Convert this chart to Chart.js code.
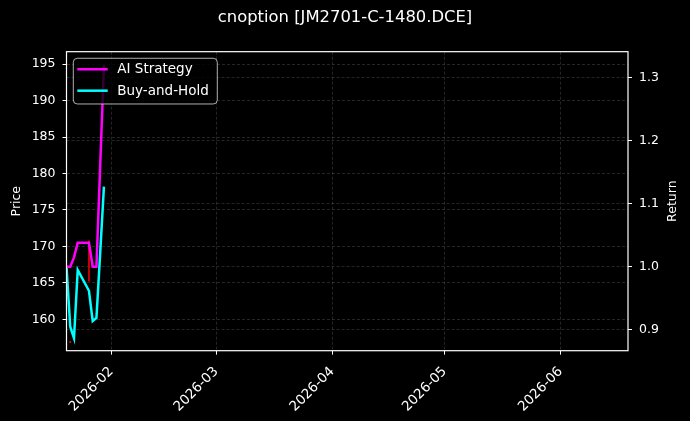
<!DOCTYPE html>
<html>
<head>
<meta charset="utf-8">
<title>cnoption</title>
<script src="https://cdn.jsdelivr.net/npm/chart.js@4.4.1/dist/chart.umd.min.js"></script>
<style>
  html, body { margin: 0; padding: 0; background: #000; }
  #grafico { display: block; }
</style>
</head>
<body>
<canvas id="grafico" width="690" height="421" style="width:690px;height:421px"></canvas>
<script>
// Datos
const dates = ['2026-01-20', '2026-01-21', '2026-01-22', '2026-01-23', '2026-01-26',
               '2026-01-27', '2026-01-28', '2026-01-29', '2026-01-30'];
const aiStrategy = [1.0, 1.0, 1.015, 1.038, 1.038, 1.0, 1.0, 1.16, 1.32];
const buyAndHold = [1.0, 0.905, 0.887, 0.995, 0.962, 0.914, 0.919, 1.022, 1.127];

// Precio (apenas visible detrás de las curvas)
const priceDates = ['2026-01-21', '2026-01-21', '2026-01-26', '2026-01-26'];
const priceValues = [156.9, null, 170.8, 165.2];

const monthTicks = ['2026-02-01', '2026-03-01', '2026-04-01', '2026-05-01', '2026-06-01'];
const priceTicks = [160, 165, 170, 175, 180, 185, 190, 195];
const returnTicks = [0.9, 1.0, 1.1, 1.2, 1.3];
const xRange = ['2026-01-20', '2026-06-19'];

function ts(d) { return Date.parse(d + 'T00:00:00Z'); }
function mes(v) {
    const d = new Date(v);
    return d.getUTCFullYear() + '-' + String(d.getUTCMonth() + 1).padStart(2, '0');
}

Chart.defaults.font.family = "'DejaVu Sans', sans-serif";
Chart.defaults.color = '#fff';

const gridColor = 'rgba(125,125,125,0.5)';

// Fondo negro
const fondo = {
    id: 'fondo',
    beforeDraw(chart) {
        const c = chart.ctx;
        c.save();
        c.fillStyle = '#000';
        c.fillRect(0, 0, chart.width, chart.height);
        c.restore();
    }
};

// Marco del área, título del eje derecho y leyenda dentro del gráfico
const marcoLeyenda = {
    id: 'marcoLeyenda',
    afterDraw(chart) {
        const c = chart.ctx, a = chart.chartArea;
        c.save();
        c.strokeStyle = '#fff';
        c.lineWidth = 1.2;
        c.strokeRect(a.left, a.top, a.right - a.left, a.bottom - a.top);

        // "Return" girado como en matplotlib (de abajo hacia arriba)
        c.save();
        c.translate(a.right + 44.5, (a.top + a.bottom) / 2);
        c.rotate(-Math.PI / 2);
        c.font = "12.5px 'DejaVu Sans'";
        c.fillStyle = '#fff';
        c.textAlign = 'center';
        c.textBaseline = 'middle';
        c.fillText('Return', 0, 0);
        c.restore();

        const x = a.left + 6.8, y = a.top + 6.6, w = 144, h = 45.7;
        c.fillStyle = 'rgba(0,0,0,0.8)';
        c.strokeStyle = 'rgba(204,204,204,0.85)';
        c.lineWidth = 1;
        c.beginPath();
        c.roundRect(x, y, w, h, 4);
        c.fill();
        c.stroke();

        c.font = "13.5px 'DejaVu Sans'";
        c.textBaseline = 'middle';
        c.textAlign = 'left';
        chart.data.datasets.filter(ds => ds.showInLegend).forEach(function(ds, i) {
            const cy = y + 11 + i * 21.4;
            c.strokeStyle = ds.borderColor;
            c.lineWidth = 2.5;
            c.beginPath();
            c.moveTo(x + 4, cy);
            c.lineTo(x + 34.4, cy);
            c.stroke();
            c.fillStyle = '#fff';
            c.fillText(ds.label, x + 44, cy + 0.5);
        });
        c.restore();
    }
};

const ctx = document.getElementById('grafico').getContext('2d');
const grafico = new Chart(ctx, {
    type: 'line',
    data: {
        datasets: [
            {
                label: 'AI Strategy',
                showInLegend: true,
                data: dates.map((d, i) => ({ x: ts(d), y: aiStrategy[i] })),
                borderColor: '#ff00ff',
                borderWidth: 2.5,
                pointRadius: 0,
                yAxisID: 'y1',
                order: 1
            },
            {
                label: 'Buy-and-Hold',
                showInLegend: true,
                data: dates.map((d, i) => ({ x: ts(d), y: buyAndHold[i] })),
                borderColor: '#00ffff',
                borderWidth: 2.5,
                pointRadius: 0,
                yAxisID: 'y1',
                order: 2
            },
            {
                label: 'Price',
                showInLegend: false,
                data: priceDates.map((d, i) => ({ x: ts(d), y: priceValues[i] })),
                borderColor: '#ff0000',
                backgroundColor: '#ff0000',
                borderWidth: 1.5,
                pointRadius: c => (c.dataIndex === 0 ? 1 : 0),
                pointBorderWidth: 0,
                spanGaps: false,
                yAxisID: 'y',
                order: 3
            }
        ]
    },
    options: {
        responsive: false,
        animation: false,
        layout: { padding: 0 },
        plugins: {
            legend: { display: false },
            tooltip: { enabled: false },
            title: {
                display: true,
                text: 'cnoption [JM2701-C-1480.DCE]',
                color: '#fff',
                font: { size: 16.4, weight: 'normal' },
                padding: { top: 8, bottom: 24 }
            }
        },
        scales: {
            x: {
                type: 'linear',
                min: ts(xRange[0]),
                max: ts(xRange[1]),
                afterBuildTicks: s => { s.ticks = monthTicks.map(d => ({ value: ts(d) })); },
                afterFit: s => { s.height = 70.3; },
                ticks: {
                    color: '#fff',
                    font: { size: 13.5 },
                    minRotation: 45,
                    maxRotation: 45,
                    autoSkip: false,
                    padding: 9,
                    callback: v => mes(v)
                },
                grid: { color: gridColor, lineWidth: 0.6, tickColor: '#fff', tickLength: 4, tickWidth: 1, tickBorderDash: [] },
                border: { display: false, dash: [3, 2] }
            },
            y: {
                position: 'left',
                min: 155.7,
                max: 196.7,
                afterBuildTicks: s => { s.ticks = priceTicks.map(v => ({ value: v })); },
                afterFit: s => { s.width = 66.5; },
                ticks: { color: '#fff', font: { size: 12.5 }, padding: 7 },
                title: { display: true, text: 'Price', color: '#fff', font: { size: 12.5 }, padding: { top: 9, bottom: 0 } },
                grid: { color: gridColor, lineWidth: 0.6, tickColor: '#fff', tickLength: 4, tickWidth: 1, tickBorderDash: [] },
                border: { display: false, dash: [3, 2] }
            },
            y1: {
                position: 'right',
                min: 0.867,
                max: 1.341,
                afterBuildTicks: s => { s.ticks = returnTicks.map(v => ({ value: v })); },
                afterFit: s => { s.width = 62; },
                ticks: { color: '#fff', font: { size: 12.5 }, padding: 7, callback: v => v.toFixed(1) },
                grid: { color: gridColor, lineWidth: 0.6, tickColor: '#fff', tickLength: 4, tickWidth: 1, tickBorderDash: [] },
                border: { display: false, dash: [3, 2] }
            }
        }
    },
    plugins: [fondo, marcoLeyenda]
});
</script>
</body>
</html>
